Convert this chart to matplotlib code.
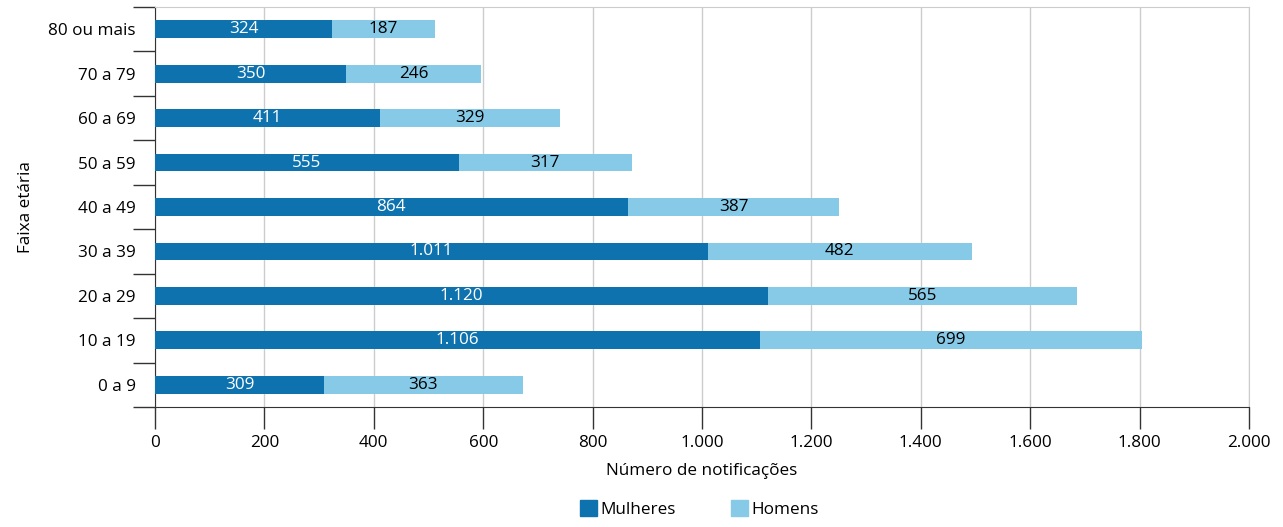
import matplotlib.pyplot as plt
from matplotlib.ticker import FuncFormatter, FixedLocator
from matplotlib.patches import Patch

plt.rcParams['font.family'] = ['Open Sans', 'DejaVu Sans']

faixas = ['0 a 9', '10 a 19', '20 a 29', '30 a 39', '40 a 49',
          '50 a 59', '60 a 69', '70 a 79', '80 ou mais']
mulheres = [309, 1106, 1120, 1011, 864, 555, 411, 350, 324]
homens = [363, 699, 565, 482, 387, 317, 329, 246, 187]

cor_m = '#0d72ad'
cor_h = '#86cae7'
fs = 12.3


def milhar(v):
    return f'{int(v):,}'.replace(',', '.')


fig = plt.figure(figsize=(12.83, 5.27), dpi=100)
ax = fig.add_axes([155 / 1283, 1 - 407 / 527, 1094 / 1283, 400 / 527])

pos = list(range(len(faixas)))
ax.barh(pos, mulheres, height=0.4, color=cor_m, zorder=3)
ax.barh(pos, homens, left=mulheres, height=0.4, color=cor_h, zorder=3)

for i in pos:
    ax.text(mulheres[i] / 2, i, milhar(mulheres[i]), ha='center', va='center',
            color='white', fontsize=fs, zorder=4)
    ax.text(mulheres[i] + homens[i] / 2, i, milhar(homens[i]), ha='center',
            va='center', color='black', fontsize=fs, zorder=4)

ax.set_xlim(0, 2000)
ax.set_ylim(-0.5, len(faixas) - 0.5)
ax.set_xticks(range(0, 2001, 200))
ax.xaxis.set_major_formatter(FuncFormatter(lambda v, p: milhar(v)))
ax.grid(axis='x', color='#cccccc', lw=1, zorder=0)

# category labels in the middle, ticks on the boundaries
ax.set_yticks(pos)
ax.set_yticklabels(faixas)
ax.yaxis.set_minor_locator(FixedLocator([p - 0.5 for p in range(len(faixas) + 1)]))
ax.tick_params(axis='y', which='major', length=0, pad=14, labelsize=fs)
ax.tick_params(axis='y', which='minor', length=16, width=1, color='#333333')
ax.tick_params(axis='x', length=16, width=1, color='#333333', labelsize=fs, pad=4)

for s in ['top', 'right']:
    ax.spines[s].set_color('#cccccc')
for s in ['left', 'bottom']:
    ax.spines[s].set_color('#333333')

ax.set_xlabel('Número de notificações', fontsize=fs, labelpad=9)
ax.set_ylabel('Faixa etária', fontsize=fs, labelpad=10)

fig.legend(handles=[Patch(color=cor_m, label='Mulheres'),
                    Patch(color=cor_h, label='Homens')],
           loc='lower center', bbox_to_anchor=(0.545, -0.012), ncol=2,
           frameon=False, fontsize=fs, handlelength=1.0, handleheight=1.0,
           handletextpad=0.2, columnspacing=3.2)

fig.savefig('out.png', dpi=100)
